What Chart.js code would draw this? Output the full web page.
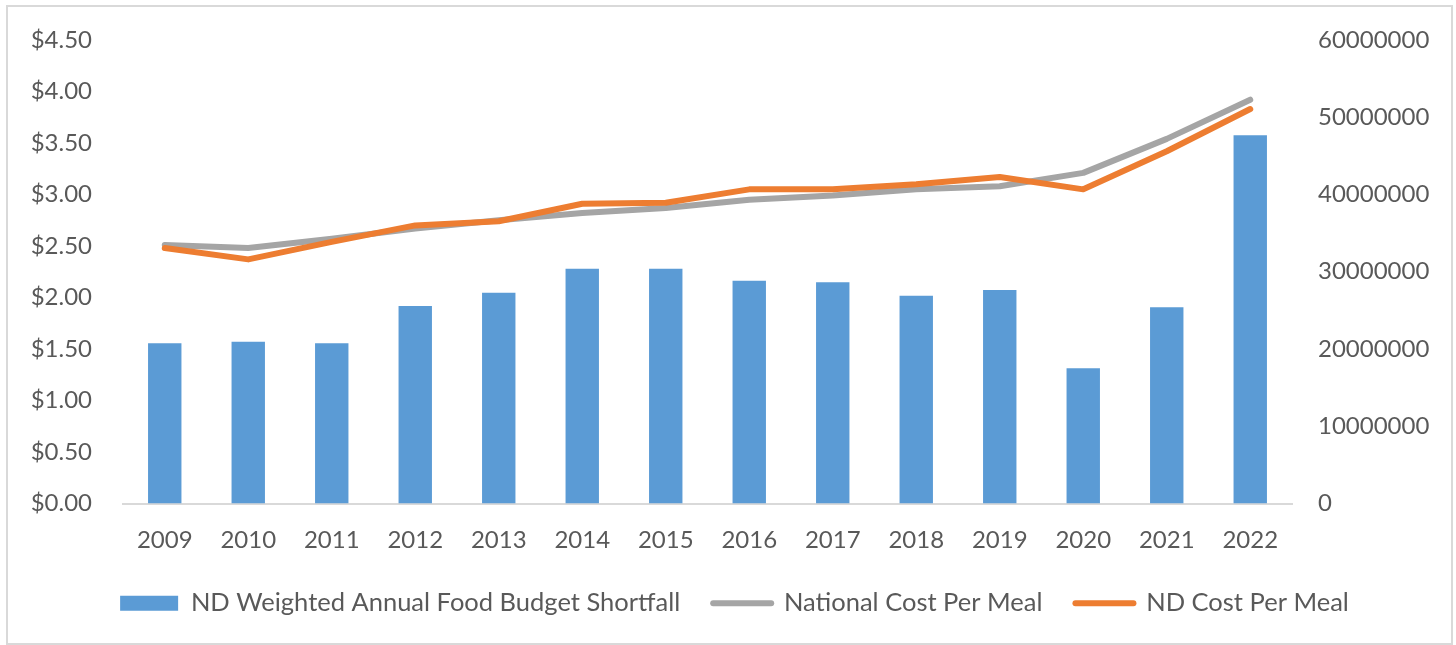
<!DOCTYPE html>
<html>
<head>
<meta charset="utf-8">
<script src="https://cdn.jsdelivr.net/npm/chart.js@4/dist/chart.umd.min.js"></script>
<style>
  html, body { margin: 0; padding: 0; background: #ffffff; }
  #wrap { position: relative; width: 1456px; height: 645px; }
  #frame { position: absolute; left: 6px; top: 5px; width: 1443px; height: 636px; border: 2px solid #d9d9d9; pointer-events: none; }
  canvas { position: absolute; left: 0; top: 0; }
</style>
</head>
<body>
<div id="wrap">
  <canvas id="c" width="1456" height="645"></canvas>
  <div id="frame"></div>
</div>
<script>
const years = ['2009','2010','2011','2012','2013','2014','2015','2016','2017','2018','2019','2020','2021','2022'];
const shortfall = [20740000, 20940000, 20740000, 25570000, 27290000, 30400000, 30400000, 28840000, 28630000, 26900000, 27640000, 17500000, 25400000, 47660000];
const nationalCost = [2.51, 2.48, 2.57, 2.67, 2.75, 2.82, 2.87, 2.95, 2.99, 3.05, 3.08, 3.21, 3.54, 3.92];
const ndCost = [2.48, 2.37, 2.54, 2.70, 2.74, 2.91, 2.92, 3.05, 3.05, 3.10, 3.17, 3.05, 3.42, 3.83];
const seriesNames = ['ND Weighted Annual Food Budget Shortfall', 'National Cost Per Meal', 'ND Cost Per Meal'];
const leftTicks = { min: 0, max: 4.5, step: 0.5 };
const rightTicks = { min: 0, max: 60000000, step: 10000000 };

const textColor = '#595959';
const font = { family: 'Lato, "Open Sans", sans-serif', size: 24 };
const legendFont = { family: 'Lato, "Open Sans", sans-serif', size: 25.5 };

new Chart(document.getElementById('c'), {
  data: {
    labels: years,
    datasets: [
      { type: 'bar', label: seriesNames[0], data: shortfall, yAxisID: 'y1',
        backgroundColor: '#5B9BD5', borderWidth: 0, order: 2,
        categoryPercentage: 1.0, barPercentage: 0.4 },
      { type: 'line', label: seriesNames[1], data: nationalCost, yAxisID: 'y',
        borderColor: '#A5A5A5', backgroundColor: '#A5A5A5', borderWidth: 6,
        borderCapStyle: 'round', borderJoinStyle: 'round',
        pointRadius: 0, tension: 0, order: 1 },
      { type: 'line', label: seriesNames[2], data: ndCost, yAxisID: 'y',
        borderColor: '#ED7D31', backgroundColor: '#ED7D31', borderWidth: 6,
        borderCapStyle: 'round', borderJoinStyle: 'round',
        pointRadius: 0, tension: 0, order: 0 }
    ]
  },
  options: {
    responsive: false,
    animation: false,
    devicePixelRatio: 1,
    layout: { padding: { left: 13, right: 0, top: 40, bottom: 19 } },
    plugins: {
      tooltip: { enabled: false },
      legend: {
        position: 'bottom',
        labels: {
          color: textColor,
          font: legendFont,
          usePointStyle: true,
          pointStyleWidth: 58,
          boxHeight: 15,
          padding: 33,
          sort: (a, b) => a.datasetIndex - b.datasetIndex,
          generateLabels: (chart) => {
            const items = Chart.defaults.plugins.legend.labels.generateLabels(chart);
            items.forEach(it => {
              const ds = chart.data.datasets[it.datasetIndex];
              if (ds.type === 'bar') {
                it.pointStyle = 'rect';
                it.lineWidth = 0;
              } else {
                it.pointStyle = 'line';
                it.lineWidth = 6;
                it.strokeStyle = ds.borderColor;
                it.lineCap = 'round';
              }
            });
            return items;
          }
        }
      }
    },
    scales: {
      x: {
        grid: { display: false, drawTicks: false },
        border: { display: true, color: '#d9d9d9', width: 2 },
        ticks: { color: textColor, font: font, padding: 22, maxRotation: 0 },
        afterFit: (s) => { s.height = 54; }
      },
      y: {
        position: 'left',
        min: leftTicks.min, max: leftTicks.max,
        grid: { display: false, drawTicks: false },
        border: { display: false },
        ticks: { stepSize: leftTicks.step, color: textColor, font: font, padding: 31,
                 callback: (v) => '$' + Number(v).toFixed(2) },
        afterFit: (s) => { s.width = 110; s.paddingTop = 0; s.paddingBottom = 0; }
      },
      y1: {
        position: 'right',
        min: rightTicks.min, max: rightTicks.max,
        grid: { display: false, drawTicks: false },
        border: { display: false },
        ticks: { stepSize: rightTicks.step, color: textColor, font: font, padding: 26,
                 callback: (v) => String(Math.round(v)) },
        afterFit: (s) => { s.width = 164; s.paddingTop = 0; s.paddingBottom = 0; }
      }
    }
  }
});
</script>
</body>
</html>
